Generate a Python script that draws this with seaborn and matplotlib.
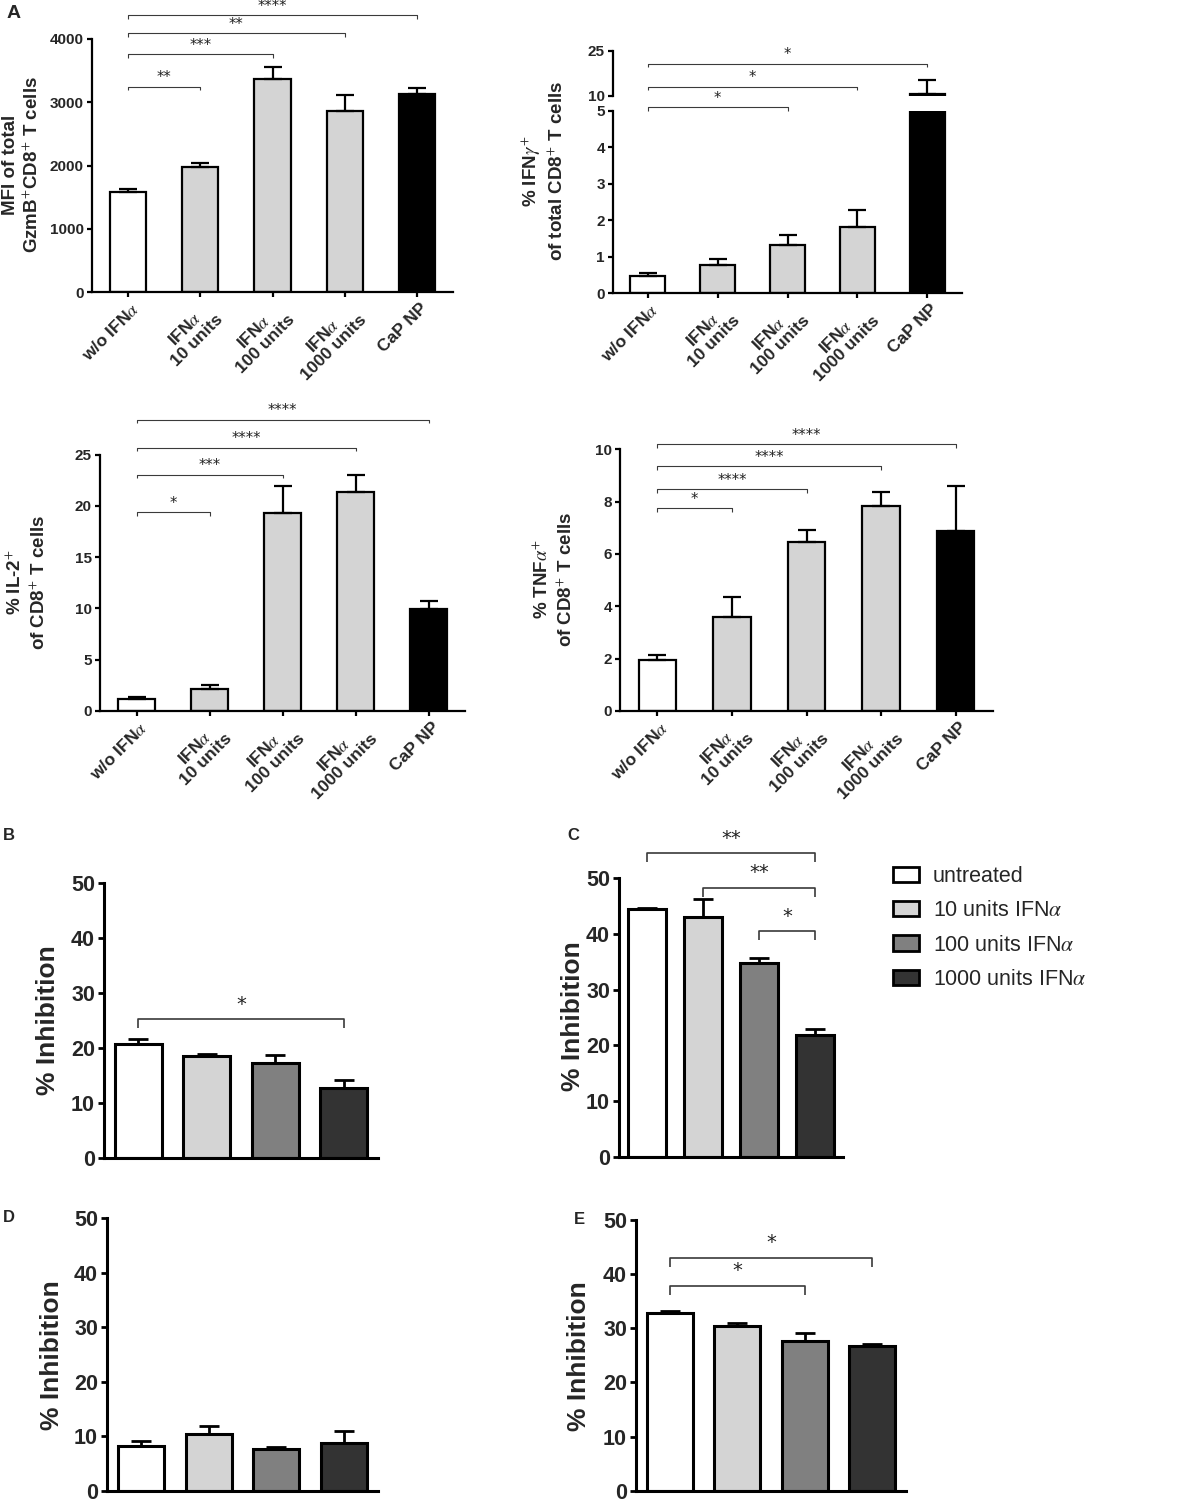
import numpy as np
import pandas as pd
import matplotlib
matplotlib.use('Agg')
import matplotlib.pyplot as plt
import matplotlib.transforms as mtransforms
import seaborn as sns
from matplotlib.patches import Patch
from matplotlib import font_manager

# ------------------------------------------------------------------ data
a_categories = ['w/o IFN$\\alpha$', 'IFN$\\alpha$\n10 units', 'IFN$\\alpha$\n100 units',
                'IFN$\\alpha$\n1000 units', 'CaP NP']
a_colors = ['#ffffff', '#d4d4d4', '#d4d4d4', '#d4d4d4', '#000000']

gzmb_mean = [1575, 1980, 3360, 2860, 3125]
gzmb_sem = [50, 55, 200, 250, 95]
gzmb_pairs = [(0, 1), (0, 2), (0, 3), (0, 4)]
gzmb_sig_y = [3246, 3757, 4090, 4379]
gzmb_sig = ['**', '***', '**', '****']

ifng_mean = [0.47, 0.77, 1.32, 1.82, 10.6]
ifng_sem = [0.09, 0.16, 0.28, 0.45, 4.6]
ifng_low_pairs = [(0, 2)]
ifng_low_sig_y = [5.09]
ifng_low_sig = ['*']
ifng_up_pairs = [(0, 3), (0, 4)]
ifng_up_sig_y = [13.0, 20.6]
ifng_up_sig = ['*', '*']

il2_mean = [1.17, 2.1, 19.35, 21.4, 9.98]
il2_sem = [0.23, 0.4, 2.6, 1.65, 0.78]
il2_pairs = [(0, 1), (0, 2), (0, 3), (0, 4)]
il2_sig_y = [19.4, 23.05, 25.66, 28.4]
il2_sig = ['*', '***', '****', '****']

tnf_mean = [1.95, 3.58, 6.47, 7.83, 6.88]
tnf_sem = [0.19, 0.79, 0.46, 0.53, 1.72]
tnf_pairs = [(0, 1), (0, 2), (0, 3), (0, 4)]
tnf_sig_y = [7.75, 8.48, 9.36, 10.19]
tnf_sig = ['*', '****', '****', '****']

inh_categories = ['untreated', '10 units IFN$\\alpha$', '100 units IFN$\\alpha$', '1000 units IFN$\\alpha$']
inh_colors = ['#ffffff', '#d4d4d4', '#808080', '#333333']

b_mean = [20.7, 18.6, 17.2, 12.7]
b_sem = [0.9, 0.3, 1.55, 1.5]
b_pairs = [(0, 3)]
b_sig_y = [25.2]
b_sig = ['*']

c_mean = [44.4, 43.1, 34.7, 21.8]
c_sem = [0.3, 3.2, 1.05, 1.15]
c_pairs = [(0, 3), (1, 3), (2, 3)]
c_sig_y = [54.5, 48.3, 40.5]
c_sig = ['**', '**', '*']

d_mean = [8.3, 10.45, 7.7, 8.75]
d_sem = [0.9, 1.45, 0.45, 2.2]

e_mean = [32.8, 30.4, 27.6, 26.7]
e_sem = [0.3, 0.5, 1.5, 0.4]
e_pairs = [(0, 2), (0, 3)]
e_sig_y = [37.8, 43.0]
e_sig = ['*', '*']

# ------------------------------------------------------------------ style
sns.set_style('ticks')


def has_font(name):
    try:
        font_manager.findfont(name, fallback_to_default=False)
        return True
    except Exception:
        return False


NARROW = 'Liberation Sans Narrow' if has_font('Liberation Sans Narrow') else 'Liberation Sans'
plt.rcParams['font.family'] = ['Liberation Sans', 'DejaVu Sans']
plt.rcParams['mathtext.fontset'] = 'stix'

W, H, DPI = 1183, 1502, 100
fig = plt.figure(figsize=(W / DPI, H / DPI), dpi=DPI)


def px_axes(l, r, t, b):
    ax = fig.add_axes([l / W, 1 - b / H, (r - l) / W, (b - t) / H])
    ax.patch.set_facecolor('none')
    return ax


def draw_bars(ax, cats, means, sems, colors, width, lw, capsize, elw):
    df = pd.DataFrame({'group': cats, 'value': means})
    sns.barplot(data=df, x='group', y='value', hue='group', order=cats, hue_order=cats,
                palette=dict(zip(cats, colors)), legend=False, width=width,
                edgecolor='black', linewidth=lw, errorbar=None, saturation=1, ax=ax)
    n = len(cats)
    ax.errorbar(np.arange(n), means, yerr=[np.zeros(n), sems], fmt='none', ecolor='black',
                elinewidth=elw, capsize=capsize, capthick=elw, zorder=3)
    ax.set_xlim(-0.5, n - 0.5)
    ax.set_xlabel('')
    ax.set_ylabel('')


def style_axes(ax, spine_w, tick_len, tick_w, labelsize):
    for s in ['top', 'right']:
        ax.spines[s].set_visible(False)
    for s in ['left', 'bottom']:
        ax.spines[s].set_linewidth(spine_w)
        ax.spines[s].set_color('black')
    ax.tick_params(axis='both', length=tick_len, width=tick_w, labelsize=labelsize,
                   direction='out', color='black', pad=2)
    for lab in ax.get_yticklabels():
        lab.set_fontweight('bold')


def a_xlabels(ax):
    ax.set_xticks(range(len(a_categories)))
    ax.set_xticklabels(a_categories, rotation=45, ha='right', va='top',
                       rotation_mode='anchor', multialignment='center',
                       fontweight='bold', fontsize=12.5, linespacing=1.05)
    off = mtransforms.ScaledTranslation(2 / 72, 0, fig.dpi_scale_trans)
    for lab in ax.get_xticklabels():
        lab.set_transform(lab.get_transform() + off)


def bracket(ax, pairs, ys, labels, tick_px, text_px, fs, lw, color='#3a3a3a'):
    y0, y1 = ax.get_ylim()
    h_ax = ax.get_position().height * H
    d = tick_px * (y1 - y0) / h_ax
    for (i, j), y, lab in zip(pairs, ys, labels):
        ax.plot([i, i, j, j], [y - d, y, y, y - d], color=color, lw=lw, clip_on=False,
                solid_capstyle='butt', zorder=5)
        ax.annotate(lab, xy=((i + j) / 2, y), xytext=(0, text_px * 72 / DPI),
                    textcoords='offset points', ha='center', va='center', fontsize=fs,
                    color='#222222', annotation_clip=False, family='DejaVu Sans', zorder=6)


# ------------------------------------------------------------------ A1 GzmB
ax = px_axes(92, 453, 39, 292)
draw_bars(ax, a_categories, gzmb_mean, gzmb_sem, a_colors, 0.5, 1.6, 6.5, 1.6)
ax.set_ylim(0, 4000)
ax.set_yticks([0, 1000, 2000, 3000, 4000])
style_axes(ax, 1.6, 3.8, 1.6, 11)
a_xlabels(ax)
bracket(ax, gzmb_pairs, gzmb_sig_y, gzmb_sig, 3.5, 9, 10.5, 0.8)
fig.text(22 / W, 1 - 165 / H, 'MFI of total\nGzmB$^{+}$CD8$^{+}$ T cells', rotation=90,
         ha='center', va='center', fontsize=13.5, fontweight='bold', linespacing=1.25,
         multialignment='center')
fig.text(14 / W, 1 - 14 / H, 'A', ha='center', va='center', fontsize=14, fontweight='bold')

# ------------------------------------------------------------------ A2 IFNg (broken axis)
ax_lo = px_axes(613, 962, 110.7, 293.3)
draw_bars(ax_lo, a_categories, ifng_mean, ifng_sem, a_colors, 0.5, 1.6, 6.5, 1.6)
ax_lo.set_ylim(0, 5)
ax_lo.set_yticks([0, 1, 2, 3, 4, 5])
style_axes(ax_lo, 1.6, 3.8, 1.6, 11)
a_xlabels(ax_lo)

ax_up = px_axes(613, 962, 50.7, 95.7)
draw_bars(ax_up, a_categories, ifng_mean, ifng_sem, a_colors, 0.5, 1.6, 6.5, 1.6)
ax_up.set_ylim(10, 25)
ax_up.set_yticks([10, 25])
style_axes(ax_up, 1.6, 3.8, 1.6, 11)
ax_up.spines['bottom'].set_visible(False)
ax_up.tick_params(axis='x', length=0, labelbottom=False)
bracket(ax_up, ifng_up_pairs, ifng_up_sig_y, ifng_up_sig, 3.5, 9, 10.5, 0.8)
ax_lo.set_zorder(3)
bracket(ax_lo, ifng_low_pairs, ifng_low_sig_y, ifng_low_sig, 3.5, 9, 10.5, 0.8)
fig.text(543 / W, 1 - 171 / H, '% IFN$\\gamma^{+}$\nof total CD8$^{+}$ T cells', rotation=90,
         ha='center', va='center', fontsize=13.5, fontweight='bold', linespacing=1.25,
         multialignment='center')

# ------------------------------------------------------------------ A3 IL-2
ax = px_axes(100, 465, 454.7, 711)
draw_bars(ax, a_categories, il2_mean, il2_sem, a_colors, 0.5, 1.6, 6.5, 1.6)
ax.set_ylim(0, 25)
ax.set_yticks([0, 5, 10, 15, 20, 25])
style_axes(ax, 1.6, 3.8, 1.6, 11)
a_xlabels(ax)
bracket(ax, il2_pairs, il2_sig_y, il2_sig, 3.5, 9, 10.5, 0.8)
fig.text(27 / W, 1 - 582 / H, '% IL-2$^{+}$\nof CD8$^{+}$ T cells', rotation=90,
         ha='center', va='center', fontsize=13.5, fontweight='bold', linespacing=1.25,
         multialignment='center')

# ------------------------------------------------------------------ A4 TNFa
ax = px_axes(620, 993, 449.3, 711)
draw_bars(ax, a_categories, tnf_mean, tnf_sem, a_colors, 0.5, 1.6, 6.5, 1.6)
ax.set_ylim(0, 10)
ax.set_yticks([0, 2, 4, 6, 8, 10])
style_axes(ax, 1.6, 3.8, 1.6, 11)
a_xlabels(ax)
bracket(ax, tnf_pairs, tnf_sig_y, tnf_sig, 3.5, 9, 10.5, 0.8)
fig.text(554 / W, 1 - 579 / H, '% TNF$\\alpha^{+}$\nof CD8$^{+}$ T cells', rotation=90,
         ha='center', va='center', fontsize=13.5, fontweight='bold', linespacing=1.25,
         multialignment='center')


# ------------------------------------------------------------------ B-E inhibition
def inh_panel(rect, means, sems, pairs, ys, sigs, letter, letter_xy, label_xy):
    ax = px_axes(*rect)
    draw_bars(ax, inh_categories, means, sems, inh_colors, 0.68, 2.2, 7, 2.0)
    ax.set_ylim(0, 50)
    ax.set_yticks([0, 10, 20, 30, 40, 50])
    style_axes(ax, 2.2, 4.5, 2.0, 15.5)
    ax.tick_params(axis='x', length=0, labelbottom=False)
    if pairs:
        bracket(ax, pairs, ys, sigs, 9, 15, 14, 1.2)
    fig.text(label_xy[0] / W, 1 - label_xy[1] / H, '% Inhibition', rotation=90,
             ha='center', va='center', fontsize=19, fontweight='bold')
    fig.text(letter_xy[0] / W, 1 - letter_xy[1] / H, letter, ha='center', va='center',
             fontsize=12, fontweight='bold')
    return ax


inh_panel((104, 378, 882.7, 1158.3), b_mean, b_sem, b_pairs, b_sig_y, b_sig, 'B', (9, 835), (48, 1020))
ax_c = inh_panel((619, 843, 878.3, 1156.7), c_mean, c_sem, c_pairs, c_sig_y, c_sig, 'C', (573, 835), (573, 1016))
inh_panel((107, 378, 1218, 1491), d_mean, d_sem, [], [], [], 'D', (9, 1217), (52, 1355))
inh_panel((636, 906, 1219.5, 1491), e_mean, e_sem, e_pairs, e_sig_y, e_sig, 'E', (579, 1219), (579, 1356))

# legend
handles = [Patch(facecolor=c, edgecolor='black', linewidth=2) for c in inh_colors]
fig.legend(handles, inh_categories, loc='upper left', bbox_to_anchor=(893 / W, 1 - 866 / H),
           frameon=False, handlelength=1.2, handleheight=0.72,
           handletextpad=0.65, labelspacing=0.62, borderpad=0, borderaxespad=0,
           prop={'family': NARROW, 'size': 15.5})

fig.savefig('out.png', dpi=DPI)
